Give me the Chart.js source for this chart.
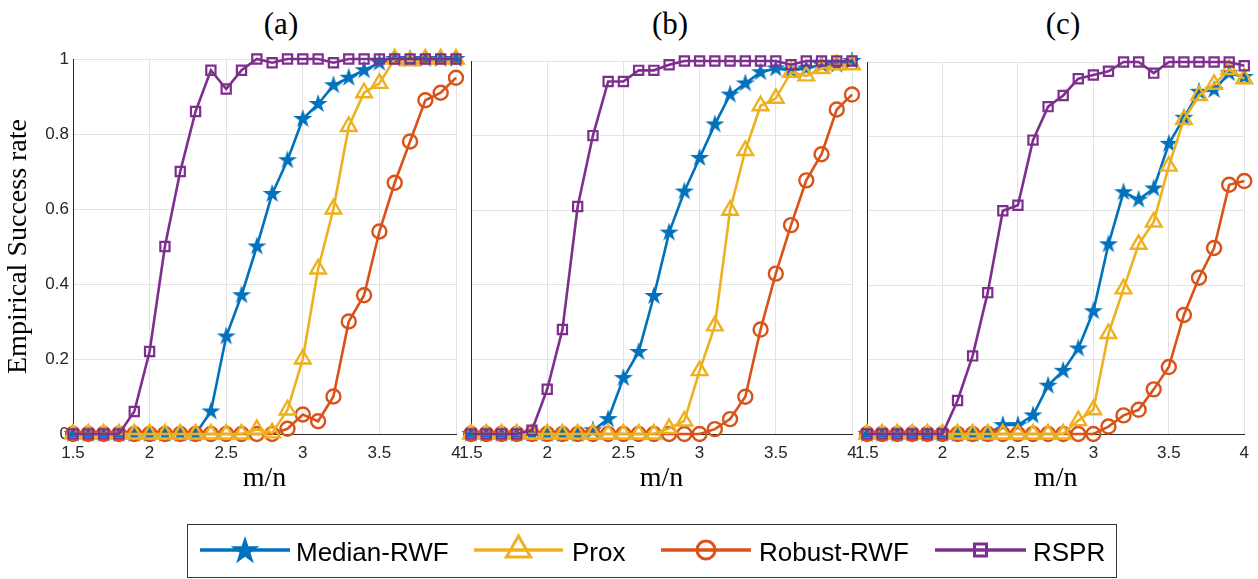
<!DOCTYPE html>
<html>
<head>
<meta charset="utf-8">
<script src="https://cdn.jsdelivr.net/npm/chart.js@4/dist/chart.umd.min.js"></script>
<style>
    body { margin: 0; width: 1258px; height: 579px; background: #fff; position: relative; overflow: hidden; }
    canvas.panel { position: absolute; top: 0; }
    .ptitle { position: absolute; top: 8px; font-family: "Liberation Serif", "Times New Roman", serif; font-size: 31px; line-height: 31px; color: #000; transform: translateX(-50%); white-space: nowrap; }
    #legend { position: absolute; left: 187px; top: 524px; width: 930px; height: 54px; border: 1px solid #333; box-sizing: border-box; background: #fff; }
    #legendIcons { position: absolute; left: 0; top: 0; }
    .ltext { position: absolute; top: 14px; font-family: "Liberation Sans", Arial, sans-serif; font-size: 26px; line-height: 26px; color: #000; white-space: nowrap; }
</style>
</head>
<body>

<div class="ptitle" style="left:281px">(a)</div>
<div class="ptitle" style="left:670px">(b)</div>
<div class="ptitle" style="left:1063px">(c)</div>

<canvas id="panelA" class="panel" width="480" height="510" style="left:0px"></canvas>
<canvas id="panelB" class="panel" width="430" height="510" style="left:440px"></canvas>
<canvas id="panelC" class="panel" width="422" height="510" style="left:836px"></canvas>

<div id="legend">
    <canvas id="legendIcons" width="930" height="54"></canvas>
    <span class="ltext" style="left:108px">Median-RWF</span>
    <span class="ltext" style="left:384px">Prox</span>
    <span class="ltext" style="left:571px">Robust-RWF</span>
    <span class="ltext" style="left:845px">RSPR</span>
</div>

<script>
// sampling ratio m/n
const ratios = [1.5, 1.6, 1.7, 1.8, 1.9, 2.0, 2.1, 2.2, 2.3, 2.4, 2.5, 2.6, 2.7,
                2.8, 2.9, 3.0, 3.1, 3.2, 3.3, 3.4, 3.5, 3.6, 3.7, 3.8, 3.9, 4.0];

const methods = ['Median-RWF', 'Prox', 'Robust-RWF', 'RSPR'];

// (a)
const medianA = [0, 0, 0, 0, 0, 0, 0, 0, 0, 0.06, 0.26, 0.37, 0.50, 0.64, 0.73, 0.84, 0.88, 0.93, 0.95, 0.97, 0.99, 1, 1, 1, 1, 1];
const proxA   = [0, 0, 0, 0, 0, 0, 0, 0, 0, 0, 0, 0, 0.012, 0.003, 0.064, 0.20, 0.44, 0.60, 0.82, 0.91, 0.935, 1, 0.995, 1, 1, 1];
const robustA = [0, 0, 0, 0, 0, 0, 0, 0, 0, 0, 0, 0, 0, 0, 0.014, 0.052, 0.034, 0.10, 0.30, 0.37, 0.54, 0.67, 0.78, 0.89, 0.91, 0.95];
const rsprA   = [0, 0, 0, 0, 0.06, 0.22, 0.50, 0.70, 0.86, 0.97, 0.92, 0.97, 1, 0.99, 1, 1, 1, 0.99, 1, 1, 1, 1, 1, 1, 1, 1];

// (b)
const medianB = [0, 0, 0, 0, 0, 0, 0, 0, 0.01, 0.04, 0.15, 0.22, 0.37, 0.54, 0.65, 0.74, 0.83, 0.91, 0.94, 0.97, 0.98, 0.975, 0.98, 0.99, 0.99, 1];
const proxB   = [0, 0, 0, 0, 0, 0, 0, 0, 0, 0, 0, 0, 0, 0.015, 0.035, 0.17, 0.29, 0.60, 0.76, 0.88, 0.90, 0.97, 0.96, 0.98, 0.99, 0.99];
const robustB = [0, 0, 0, 0, 0, 0, 0, 0, 0, 0, 0, 0, 0, 0, 0, 0, 0.013, 0.04, 0.10, 0.28, 0.43, 0.56, 0.68, 0.75, 0.87, 0.91];
const rsprB   = [0, 0, 0, 0, 0.01, 0.12, 0.28, 0.61, 0.80, 0.945, 0.945, 0.975, 0.975, 0.99, 1, 1, 1, 1, 1, 1, 1, 0.99, 1, 1, 1, 1];

// (c)
const medianC = [0, 0, 0, 0, 0, 0, 0, 0, 0, 0.024, 0.024, 0.05, 0.13, 0.17, 0.23, 0.33, 0.51, 0.65, 0.63, 0.66, 0.78, 0.85, 0.92, 0.925, 0.97, 0.96];
const proxC   = [0, 0, 0, 0, 0, 0, 0, 0, 0, 0, 0, 0, 0, 0, 0.036, 0.065, 0.27, 0.39, 0.51, 0.57, 0.72, 0.845, 0.91, 0.94, 0.98, 0.955];
const robustC = [0, 0, 0, 0, 0, 0, 0, 0, 0, 0, 0, 0, 0, 0, 0, 0, 0.02, 0.05, 0.065, 0.12, 0.18, 0.32, 0.42, 0.50, 0.67, 0.68];
const rsprC   = [0, 0, 0, 0, 0, 0, 0.09, 0.21, 0.38, 0.60, 0.615, 0.79, 0.88, 0.91, 0.955, 0.965, 0.975, 1, 1, 0.97, 1, 1, 1, 1, 1, 0.99];

const xTicks = [1.5, 2, 2.5, 3, 3.5, 4];
const yTicks = [0, 0.2, 0.4, 0.6, 0.8, 1];

const BLUE = '#0072BD', YELLOW = '#EDB120', ORANGE = '#D95319', PURPLE = '#7E2F8E';
const AXIS = '#262626', GRID = '#e3e3e3';

// "2" rather than "2.0", "1" rather than "1.0"
const plainNum = v => String(Math.round(v * 10) / 10);

// filled five-point star, used as a point image
function starImage(R, color) {
    const s = Math.ceil(R * 2) + 2;
    const c = document.createElement('canvas');
    c.width = s; c.height = s;
    const ctx = c.getContext('2d');
    ctx.translate(s / 2, s / 2);
    starPath(ctx, 0, 0, R);
    ctx.fillStyle = color;
    ctx.fill();
    return c;
}

function starPath(ctx, x, y, R) {
    ctx.beginPath();
    for (let i = 0; i < 10; i++) {
        const r = i % 2 ? R * 0.382 : R;
        const a = -Math.PI / 2 + i * Math.PI / 5;
        ctx.lineTo(x + r * Math.cos(a), y + r * Math.sin(a));
    }
    ctx.closePath();
}

const starPt = starImage(10, BLUE);

function pts(values) {
    return values.map((v, i) => ({ x: ratios[i], y: v }));
}

function makePanel(id, series, cfg) {
    const [median, prox, robust, rspr] = series;
    const common = { borderWidth: 2.6, tension: 0, clip: false, fill: false };
    return new Chart(document.getElementById(id), {
        type: 'line',
        data: {
            datasets: [
                Object.assign({ label: methods[0], data: pts(median), borderColor: BLUE, backgroundColor: BLUE,
                    pointStyle: starPt, pointRadius: 9, order: 3 }, common),
                Object.assign({ label: methods[1], data: pts(prox), borderColor: YELLOW, backgroundColor: YELLOW,
                    pointStyle: 'triangle', pointRadius: 9, pointBorderWidth: 2.4, pointBackgroundColor: 'rgba(0,0,0,0)', order: 1 }, common),
                Object.assign({ label: methods[2], data: pts(robust), borderColor: ORANGE, backgroundColor: ORANGE,
                    pointStyle: 'circle', pointRadius: 7, pointBorderWidth: 2.4, pointBackgroundColor: 'rgba(0,0,0,0)', order: 2 }, common),
                Object.assign({ label: methods[3], data: pts(rspr), borderColor: PURPLE, backgroundColor: PURPLE,
                    pointStyle: 'rect', pointRadius: 6.5, pointBorderWidth: 2.2, pointBackgroundColor: 'rgba(0,0,0,0)', order: 0 }, common)
            ]
        },
        options: {
            responsive: false,
            animation: false,
            events: [],
            layout: { padding: { top: cfg.top, right: cfg.right, left: 0, bottom: 0 } },
            plugins: { legend: { display: false }, tooltip: { enabled: false } },
            scales: {
                x: {
                    type: 'linear',
                    min: xTicks[0],
                    max: xTicks[xTicks.length - 1],
                    afterBuildTicks: s => { s.ticks = xTicks.map(v => ({ value: v })); },
                    ticks: { color: AXIS, font: { family: 'Liberation Sans', size: 17 }, padding: 9, maxRotation: 0,
                        callback: plainNum },
                    grid: { color: GRID, drawTicks: false },
                    border: { color: AXIS, width: 1 },
                    title: { display: true, text: 'm/n', color: '#000',
                        font: { family: 'Liberation Serif', size: 28 }, padding: { top: 0, bottom: 15 } },
                    afterFit: s => { s.height = 76; }
                },
                y: {
                    min: 0,
                    max: 1,
                    afterBuildTicks: s => { s.ticks = yTicks.map(v => ({ value: v })); },
                    ticks: { display: cfg.yLabels, color: AXIS, font: { family: 'Liberation Sans', size: 17 }, padding: 4,
                        callback: plainNum },
                    grid: { color: GRID, drawTicks: false },
                    border: { color: AXIS, width: 1 },
                    title: { display: cfg.yLabels, text: 'Empirical Success rate', color: '#000',
                        font: { family: 'Liberation Serif', size: 28 }, padding: { top: 2, bottom: 0 } },
                    afterFit: s => { s.width = cfg.yWidth; }
                }
            }
        }
    });
}

makePanel('panelA', [medianA, proxA, robustA, rsprA], { top: 59, right: 24, yWidth: 73, yLabels: true });
makePanel('panelB', [medianB, proxB, robustB, rsprB], { top: 61, right: 18, yWidth: 31, yLabels: false });
makePanel('panelC', [medianC, proxC, robustC, rsprC], { top: 62, right: 10, yWidth: 31, yLabels: false });

// legend swatches: line with the series marker in the middle
(function drawLegendIcons() {
    const ctx = document.getElementById('legendIcons').getContext('2d');
    const y = 25;
    const items = [
        { x0: 12, x1: 102, color: BLUE, mark: 'star' },
        { x0: 286, x1: 375, color: YELLOW, mark: 'triangle' },
        { x0: 473, x1: 563, color: ORANGE, mark: 'circle' },
        { x0: 747, x1: 838, color: PURPLE, mark: 'square' }
    ];
    items.forEach(it => {
        const cx = (it.x0 + it.x1) / 2;
        ctx.strokeStyle = it.color;
        ctx.fillStyle = it.color;
        ctx.lineWidth = 3.5;
        ctx.beginPath();
        ctx.moveTo(it.x0, y);
        ctx.lineTo(it.x1, y);
        ctx.stroke();
        ctx.lineWidth = 3;
        if (it.mark === 'star') {
            starPath(ctx, cx, y + 1, 15);
            ctx.fill();
        } else if (it.mark === 'triangle') {
            const r = 14;
            ctx.beginPath();
            ctx.moveTo(cx, y - r);
            ctx.lineTo(cx + r * 0.866, y + r * 0.5);
            ctx.lineTo(cx - r * 0.866, y + r * 0.5);
            ctx.closePath();
            ctx.stroke();
        } else if (it.mark === 'circle') {
            ctx.beginPath();
            ctx.arc(cx, y, 9, 0, Math.PI * 2);
            ctx.stroke();
        } else {
            ctx.strokeRect(cx - 6, y - 6, 12, 12);
        }
    });
})();
</script>
</body>
</html>
